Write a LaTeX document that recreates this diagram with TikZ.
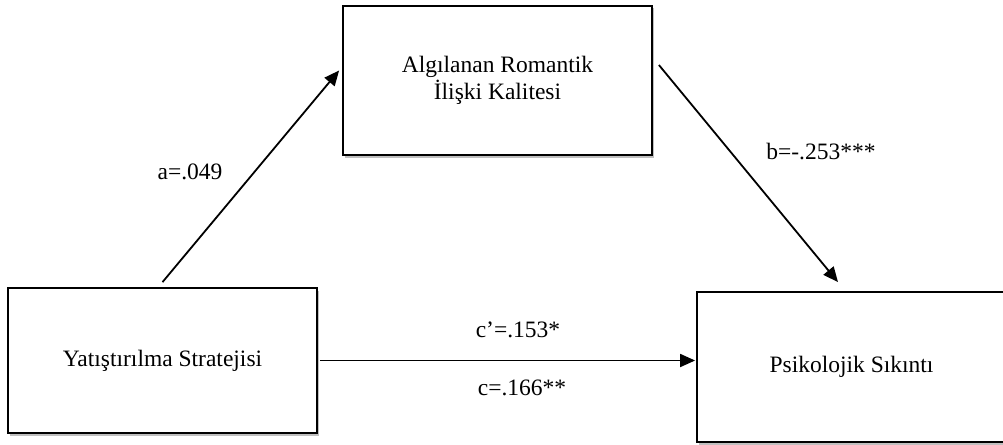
\documentclass[tikz,border=0pt]{standalone}
\usepackage{fontspec}
\setmainfont{Liberation Serif}
\usetikzlibrary{arrows.meta,shadows}
\begin{document}
\begin{tikzpicture}[x=1pt,y=-1pt,
  box/.style={draw=black,line width=1.8pt,fill=white,minimum width=309pt,inner sep=0pt,align=center,
    font=\fontsize{23.5}{27}\selectfont,
    drop shadow={shadow xshift=2pt,shadow yshift=-2.5pt,opacity=0.25,fill=black}},
  lbl/.style={inner sep=0pt,font=\fontsize{23.5}{27}\selectfont},
  arr/.style={line width=1.8pt,-{Triangle[length=15pt,width=13pt]}}]
\useasboundingbox (0,0) rectangle (1003,444);
\node[box,minimum height=145pt] (L) at (162.5,360.5) {Yatıştırılma Stratejisi};
\node[box,minimum height=149pt] (T) at (497.5,80.5) {Algılanan Romantik\\İlişki Kalitesi};
\node[box,minimum height=150pt] (R) at (851.5,367) {\raisebox{-6pt}{Psikolojik Sıkıntı}};
\draw[arr] ([yshift=5pt]L.north) -- ([xshift=-3pt,yshift=10pt]T.west);
\draw[arr] ([xshift=6pt,yshift=15.5pt]T.east) -- ([xshift=-13.5pt,yshift=9pt]R.north);
\draw[arr] ([xshift=2pt]L.east) -- ([xshift=-1pt]L.east -| R.west);
\node[lbl] (la) at (190,172) {a=.049};
\node[lbl] (lb) at (821,152) {b=-.253***};
\node[lbl] (lc1) at (518,330) {c’=.153*};
\node[lbl] (lc2) at (522,388) {c=.166**};
\end{tikzpicture}
\end{document}
